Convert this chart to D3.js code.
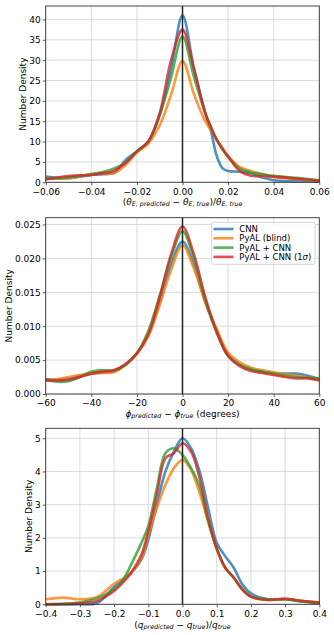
<!DOCTYPE html>
<html>
<head>
<meta charset="utf-8">
<script src="https://cdn.jsdelivr.net/npm/d3@7"></script>
<style>
  body { margin: 0; background: #fff; }
  svg { display: block; font-family: "DejaVu Sans", sans-serif; }
</style>
</head>
<body>
<div id="chart"></div>
<script>
// series names + colours (matplotlib tab10)
const seriesNames = ["CNN", "PyAL (blind)", "PyAL + CNN", "PyAL + CNN (1σ)"];
const seriesColors = ["#1f77b4", "#ff7f0e", "#2ca02c", "#d62728"];

// panel 1: (theta_pred - theta_true)/theta_true
const x1 = [-0.06,-0.05,-0.04,-0.035,-0.03,-0.025,-0.02,-0.015,-0.01,-0.005,0,0.005,0.01,0.0125,0.015,0.0175,0.02,0.025,0.03,0.035,0.04,0.05,0.06];
const cnn1    = [1.4,1.0,1.8,2.0,2.3,5.5,7.6,10,16.5,28,41,28,17,12.5,6.5,3.5,2.8,2.6,2.2,1.2,0.5,0.3,0.2];
const blind1  = [0.9,1.0,2.0,2.2,2.2,4.2,7.3,9.5,14,21.5,29.8,21.7,15,12.8,10.5,8.4,6.5,3.8,2.8,2.0,1.3,0.8,0.4];
const pyal1   = [0.9,1.2,2.0,2.5,3.4,4.8,7.6,10,16.5,25.8,35.8,25.9,17,13.5,10.5,8.2,6.3,3.4,2.4,2.0,1.6,1.1,0.5];
const sigma1  = [0.7,1.55,1.8,2.2,2.8,4.8,7.6,10,17,30,37.5,28,17,13.5,10.4,8.2,6.3,2.8,1.6,1.5,1.4,0.9,0.4];
const xTicks1 = [-0.06,-0.04,-0.02,0,0.02,0.04,0.06];
const yTicks1 = [0,5,10,15,20,25,30,35,40];

// panel 2: phi_pred - phi_true (degrees)
const x2 = [-60,-55,-50,-45,-40,-35,-30,-25,-20,-15,-10,-5,0,5,10,15,20,25,30,35,40,45,50,55,60];
const cnn2   = [0.0022,0.0021,0.0023,0.0027,0.0030,0.0032,0.0034,0.0043,0.0060,0.0087,0.0136,0.0190,0.0225,0.0190,0.0136,0.0093,0.0058,0.0044,0.0037,0.0033,0.0031,0.0030,0.0030,0.0027,0.0022];
const blind2 = [0.0020,0.0022,0.0025,0.0028,0.0030,0.0031,0.0032,0.0043,0.0059,0.0085,0.0131,0.0183,0.0219,0.0185,0.0135,0.0096,0.0061,0.0047,0.0039,0.0035,0.0032,0.0029,0.0027,0.0024,0.0021];
const pyal2  = [0.0021,0.0018,0.0019,0.0025,0.0033,0.0035,0.0035,0.0043,0.0060,0.0093,0.0145,0.0201,0.0240,0.0200,0.0138,0.0090,0.0056,0.0043,0.0036,0.0033,0.0030,0.0027,0.0025,0.0024,0.0023];
const sigma2 = [0.0020,0.0020,0.0021,0.0025,0.0030,0.0033,0.0035,0.0044,0.0060,0.0088,0.0143,0.0206,0.0247,0.0206,0.0143,0.0092,0.0056,0.0041,0.0034,0.0031,0.0028,0.0025,0.0023,0.0023,0.0020];
const xTicks2 = [-60,-40,-20,0,20,40,60];
const yTicks2 = [0,0.005,0.01,0.015,0.02,0.025];

// panel 3: (q_pred - q_true)/q_true
const x3 = [-0.4,-0.35,-0.3,-0.25,-0.2,-0.17,-0.15,-0.12,-0.1,-0.075,-0.05,-0.025,0,0.025,0.05,0.075,0.1,0.125,0.15,0.175,0.2,0.25,0.3,0.35,0.4];
const cnn3   = [0,0,0,0.03,0.52,0.78,0.95,1.35,1.95,3.0,4.0,4.6,5.0,4.7,4.0,2.9,1.85,1.45,1.1,0.6,0.33,0.15,0.15,0.1,0.05];
const blind3 = [0.15,0.2,0.15,0.22,0.62,0.8,0.95,1.4,2.1,2.9,3.6,4.1,4.35,4.05,3.35,2.5,1.68,1.1,0.8,0.45,0.23,0.13,0.15,0.1,0.05];
const pyal3  = [0,0.02,0.05,0.18,0.45,0.8,1.2,1.85,2.35,3.5,4.55,4.7,4.5,4.1,3.55,2.5,1.68,1.1,0.8,0.45,0.23,0.15,0.15,0.08,0.03];
const sigma3 = [0,0,0.03,0.1,0.4,0.7,0.95,1.5,2.2,3.3,4.4,4.55,4.85,4.6,3.8,2.6,1.68,1.1,0.8,0.45,0.23,0.13,0.17,0.1,0.05];
const xTicks3 = [-0.4,-0.3,-0.2,-0.1,0,0.1,0.2,0.3,0.4];
const yTicks3 = [0,1,2,3,4,5];

const width = 334, height = 635;
const svg = d3.select("#chart").append("svg")
    .attr("width", width)
    .attr("height", height);

const left = 45.7, right = 319.3;

function drawPanel(p) {
    const x = d3.scaleLinear().domain(p.xDomain).range([left, right]);
    const y = d3.scaleLinear().domain(p.yDomain).range([p.bottom, p.top]);
    const g = svg.append("g");

    // grid
    g.append("g").selectAll("line").data(p.xTicks).join("line")
        .attr("x1", d => x(d)).attr("x2", d => x(d))
        .attr("y1", p.top).attr("y2", p.bottom)
        .attr("stroke", "#d3d3d3").attr("stroke-width", 0.8);
    g.append("g").selectAll("line").data(p.yTicks).join("line")
        .attr("x1", left).attr("x2", right)
        .attr("y1", d => y(d)).attr("y2", d => y(d))
        .attr("stroke", "#d3d3d3").attr("stroke-width", 0.8);

    // curves
    const line = d3.line()
        .x((d, i) => x(p.xs[i]))
        .y(d => y(d))
        .curve(d3.curveCatmullRom.alpha(0.5));
    p.series.forEach((s, k) => {
        g.append("path")
            .attr("d", line(s))
            .attr("fill", "none")
            .attr("stroke", seriesColors[k])
            .attr("stroke-opacity", 0.8)
            .attr("stroke-width", 2.6)
            .attr("stroke-linejoin", "round");
    });

    // zero line
    g.append("line")
        .attr("x1", x(0)).attr("x2", x(0))
        .attr("y1", p.top).attr("y2", p.bottom)
        .attr("stroke", "#222").attr("stroke-width", 1.5);

    // axes
    const xAxis = g.append("g")
        .attr("transform", `translate(0,${p.bottom})`)
        .call(d3.axisBottom(x).tickValues(p.xTicks).tickFormat(d3.format(p.xFmt)).tickSize(3).tickPadding(3));
    const yAxis = g.append("g")
        .attr("transform", `translate(${left},0)`)
        .call(d3.axisLeft(y).tickValues(p.yTicks).tickFormat(d3.format(p.yFmt)).tickSize(3).tickPadding(2));
    [xAxis, yAxis].forEach(a => {
        a.select(".domain").remove();
        a.selectAll("text").attr("font-size", 9).attr("fill", "#000").attr("font-family", "DejaVu Sans");
        a.selectAll("line").attr("stroke", "#333").attr("stroke-width", 0.8);
    });

    // frame
    g.append("rect")
        .attr("x", left).attr("y", p.top)
        .attr("width", right - left).attr("height", p.bottom - p.top)
        .attr("fill", "none").attr("stroke", "#333").attr("stroke-width", 0.9);

    // y label
    g.append("text")
        .attr("transform", `translate(${p.yLabelX},${(p.top + p.bottom) / 2}) rotate(-90)`)
        .attr("text-anchor", "middle")
        .attr("dy", "0.35em")
        .attr("font-size", 9)
        .text("Number Density");

    // x label (mathtext-ish)
    const xl = g.append("text")
        .attr("x", (left + right) / 2)
        .attr("y", p.xLabelY)
        .attr("text-anchor", "middle")
        .attr("font-size", 9);
    p.xLabel.forEach(part => {
        const t = xl.append("tspan").text(part.t);
        if (part.i) t.attr("font-style", "italic");
        if (part.sub) t.attr("font-size", 6.3).attr("baseline-shift", "-18%");
    });
    return g;
}

drawPanel({
    xs: x1, series: [cnn1, blind1, pyal1, sigma1],
    xDomain: [-0.06, 0.06], yDomain: [0, 43.3],
    xTicks: xTicks1, yTicks: yTicks1, xFmt: ".2f", yFmt: "d",
    top: 6, bottom: 182.3, yLabelX: 23, xLabelY: 205,
    xLabel: [
        {t: "("}, {t: "θ", i: true}, {t: "E, predicted", i: true, sub: true},
        {t: " − "}, {t: "θ", i: true}, {t: "E, true", i: true, sub: true},
        {t: ")/"}, {t: "θ", i: true}, {t: "E, true", i: true, sub: true}
    ]
});

const p2 = drawPanel({
    xs: x2, series: [cnn2, blind2, pyal2, sigma2],
    xDomain: [-60, 60], yDomain: [0, 0.026],
    xTicks: xTicks2, yTicks: yTicks2, xFmt: "d", yFmt: ".3f",
    top: 217.7, bottom: 394, yLabelX: 8.5, xLabelY: 416.5,
    xLabel: [
        {t: "ϕ", i: true}, {t: "predicted", i: true, sub: true},
        {t: " − "}, {t: "ϕ", i: true}, {t: "true", i: true, sub: true},
        {t: " (degrees)"}
    ]
});

drawPanel({
    xs: x3, series: [cnn3, blind3, pyal3, sigma3],
    xDomain: [-0.4, 0.4], yDomain: [0, 5.3],
    xTicks: xTicks3, yTicks: yTicks3, xFmt: ".1f", yFmt: "d",
    top: 428.3, bottom: 604.3, yLabelX: 29, xLabelY: 628,
    xLabel: [
        {t: "("}, {t: "q", i: true}, {t: "predicted", i: true, sub: true},
        {t: " − "}, {t: "q", i: true}, {t: "true", i: true, sub: true},
        {t: ")/"}, {t: "q", i: true}, {t: "true", i: true, sub: true}
    ]
});

// legend in panel 2
const legend = p2.append("g").attr("transform", "translate(211.7,222.3)");
legend.append("rect")
    .attr("width", 103.3).attr("height", 42)
    .attr("rx", 2)
    .attr("fill", "#fff").attr("fill-opacity", 0.85)
    .attr("stroke", "#ccc").attr("stroke-width", 0.8);
seriesNames.forEach((name, k) => {
    const yy = 6.7 + k * 9.3;
    legend.append("line")
        .attr("x1", 1.8).attr("x2", 21.8)
        .attr("y1", yy).attr("y2", yy)
        .attr("stroke", seriesColors[k]).attr("stroke-opacity", 0.8)
        .attr("stroke-width", 2.6);
    const t = legend.append("text")
        .attr("x", 27.6).attr("y", yy)
        .attr("dy", "0.35em")
        .attr("font-size", 8.5);
    if (k === 3) {
        t.append("tspan").text("PyAL + CNN (1");
        t.append("tspan").attr("font-style", "italic").text("σ");
        t.append("tspan").text(")");
    } else {
        t.text(name);
    }
});
</script>
</body>
</html>
